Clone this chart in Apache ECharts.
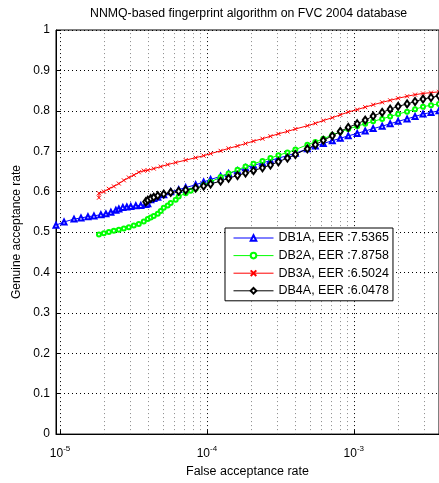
<!DOCTYPE html>
<html>
<head>
<meta charset="utf-8">
<script src="https://cdn.jsdelivr.net/npm/echarts@6/dist/echarts.min.js"></script>
<style>
html,body{margin:0;padding:0;background:#fff;}
#chart{width:439px;height:483px;}
</style>
</head>
<body>
<div id="chart"></div>
<script>
// ---- data (FAR, GAR) ----
const db1aFar = [9.39e-6,1.065e-5,1.245e-5,1.389e-5,1.549e-5,1.702e-5,1.897e-5,2.053e-5,2.219e-5,2.399e-5,2.515e-5,2.677e-5,2.850e-5,3.034e-5,3.281e-5,3.548e-5,3.835e-5,3.957e-5,4.148e-5,4.347e-5,4.627e-5,5.082e-5,5.670e-5,6.426e-5,7.170e-5,8.382e-5,9.497e-5,1.059e-4,1.239e-4,1.404e-4,1.615e-4,1.831e-4,2.075e-4,2.388e-4,2.706e-4,3.067e-4,3.531e-4,4.001e-4,4.826e-4,5.470e-4,6.198e-4,7.135e-4,8.085e-4,9.162e-4,1.054e-3,1.195e-3,1.354e-3,1.559e-3,1.767e-3,2.002e-3,2.304e-3,2.611e-3,2.958e-3,3.353e-3,3.800e-3];
const db1aGar = [0.517,0.525,0.532,0.535,0.538,0.540,0.543,0.545,0.549,0.554,0.557,0.561,0.562,0.563,0.565,0.566,0.568,0.570,0.580,0.583,0.586,0.592,0.600,0.605,0.610,0.617,0.624,0.630,0.638,0.645,0.652,0.659,0.665,0.671,0.677,0.683,0.689,0.695,0.706,0.713,0.719,0.726,0.732,0.738,0.744,0.750,0.756,0.762,0.768,0.774,0.780,0.786,0.792,0.796,0.800];

const db2aFar = [1.841e-5,1.989e-5,2.151e-5,2.325e-5,2.515e-5,2.720e-5,2.941e-5,3.180e-5,3.438e-5,3.717e-5,3.957e-5,4.148e-5,4.347e-5,4.627e-5,4.850e-5,5.082e-5,5.410e-5,5.670e-5,6.131e-5,6.426e-5,7.170e-5,7.752e-5,8.382e-5,9.497e-5,1.059e-4,1.239e-4,1.404e-4,1.615e-4,1.831e-4,2.075e-4,2.388e-4,2.706e-4,3.067e-4,3.531e-4,4.001e-4,4.826e-4,5.470e-4,6.198e-4,7.135e-4,8.085e-4,9.162e-4,1.054e-3,1.195e-3,1.354e-3,1.559e-3,1.767e-3,2.002e-3,2.304e-3,2.611e-3,2.958e-3,3.353e-3,3.800e-3];
const db2aGar = [0.494,0.497,0.500,0.503,0.506,0.509,0.512,0.516,0.520,0.526,0.532,0.536,0.540,0.545,0.552,0.560,0.566,0.572,0.580,0.588,0.596,0.602,0.607,0.616,0.624,0.636,0.645,0.654,0.662,0.669,0.676,0.683,0.690,0.697,0.704,0.716,0.723,0.731,0.740,0.748,0.755,0.762,0.768,0.774,0.780,0.786,0.792,0.798,0.804,0.810,0.814,0.817];

const db3aFar = [1.841e-5,1.841e-5,1.989e-5,2.151e-5,2.325e-5,2.515e-5,2.720e-5,2.941e-5,3.180e-5,3.438e-5,3.717e-5,3.957e-5,4.347e-5,4.850e-5,5.410e-5,6.131e-5,7.170e-5,8.382e-5,9.497e-5,1.059e-4,1.239e-4,1.404e-4,1.615e-4,1.831e-4,2.075e-4,2.388e-4,2.706e-4,3.067e-4,3.531e-4,4.001e-4,4.826e-4,5.470e-4,6.198e-4,7.135e-4,8.085e-4,9.162e-4,1.054e-3,1.195e-3,1.354e-3,1.559e-3,1.767e-3,2.002e-3,2.304e-3,2.611e-3,2.958e-3,3.353e-3,3.800e-3];
const db3aGar = [0.585,0.596,0.600,0.607,0.613,0.620,0.628,0.635,0.641,0.648,0.652,0.653,0.657,0.662,0.667,0.672,0.678,0.684,0.689,0.694,0.701,0.707,0.713,0.719,0.725,0.731,0.737,0.743,0.749,0.755,0.763,0.769,0.776,0.783,0.790,0.797,0.803,0.809,0.815,0.821,0.826,0.831,0.836,0.840,0.843,0.845,0.847];

const db4aFar = [3.835e-5,3.957e-5,4.148e-5,4.347e-5,4.627e-5,5.082e-5,5.670e-5,6.426e-5,7.170e-5,8.382e-5,9.497e-5,1.059e-4,1.239e-4,1.404e-4,1.615e-4,1.831e-4,2.075e-4,2.388e-4,2.706e-4,3.067e-4,3.531e-4,4.001e-4,4.826e-4,5.470e-4,6.198e-4,7.135e-4,8.085e-4,9.162e-4,1.054e-3,1.195e-3,1.354e-3,1.559e-3,1.767e-3,2.002e-3,2.304e-3,2.611e-3,2.958e-3,3.353e-3,3.800e-3];
const db4aGar = [0.575,0.579,0.583,0.586,0.590,0.594,0.598,0.601,0.604,0.609,0.614,0.619,0.626,0.633,0.640,0.646,0.652,0.659,0.666,0.674,0.683,0.692,0.706,0.716,0.727,0.738,0.749,0.759,0.768,0.777,0.787,0.796,0.804,0.811,0.817,0.823,0.829,0.833,0.837];

const seriesNames = ['DB1A, EER :7.5365','DB2A, EER :7.8758','DB3A, EER :6.5024','DB4A, EER :6.0478'];
const xMin = 9.39e-6, xMax = 3.8e-3;
const decadeGrid = [1e-5, 1e-4, 1e-3];
const minorGrid = [2e-5,3e-5,4e-5,5e-5,6e-5,7e-5,8e-5,9e-5,2e-4,3e-4,4e-4,5e-4,6e-4,7e-4,8e-4,9e-4,2e-3,3e-3];

const FONT = '"Liberation Sans", Arial, sans-serif';
function pairs(xs, ys){ return xs.map((x,i)=>[x, ys[i]]); }

const chart = echarts.init(document.getElementById('chart'), null, {renderer:'canvas'});
const crossPath = 'path://M0,0L10,10M10,0L0,10';

// vertical grid lines (value, isDecade) drawn through the log x scale
const vGridData = decadeGrid.map(v => [v, 1]).concat(minorGrid.map(v => [v, 0]));

chart.setOption({
  animation: false,
  backgroundColor: '#fff',
  title: {
    text: 'NNMQ-based fingerprint algorithm on FVC 2004 database',
    left: 90, top: 8, padding: 0,
    textStyle: {fontFamily: FONT, fontSize: 12.3, fontWeight: 'normal', color: '#000'}
  },
  grid: {left: 56, right: 0, top: 30, bottom: 43, show: true, borderColor: '#000', borderWidth: 1, backgroundColor: 'transparent'},
  legend: {
    orient: 'vertical', left: 225, top: 228,
    backgroundColor: '#fff', borderColor: '#000', borderWidth: 1,
    padding: [3, 4, 3, 8], itemWidth: 40, itemHeight: 7, itemGap: 3.6,
    lineStyle: {width: 1},
    textStyle: {fontFamily: FONT, fontSize: 12.5, color: '#000', lineHeight: 14},
    data: seriesNames
  },
  xAxis: {
    type: 'log', min: xMin, max: xMax, logBase: 10,
    name: 'False acceptance rate', nameLocation: 'middle', nameGap: 27,
    nameTextStyle: {fontFamily: FONT, fontSize: 12.5, color: '#000'},
    axisLine: {show: true, lineStyle: {color: '#000'}},
    axisTick: {show: true, inside: true, length: 4, lineStyle: {color: '#000'}},
    splitLine: {show: false},
    axisLabel: {
      margin: 8, showMinLabel: false, showMaxLabel: false,
      formatter: function(v){
        const e = Math.log10(v);
        if (Math.abs(e - Math.round(e)) > 1e-6) return '';
        return '{b|10}{s|' + Math.round(e) + '}';
      },
      rich: {
        b: {fontFamily: FONT, fontSize: 12, color: '#000', padding: [6,0,0,0]},
        s: {fontFamily: FONT, fontSize: 8, color: '#000', padding: [0,0,4,0]}
      }
    }
  },
  yAxis: {
    type: 'value', min: 0, max: 1, interval: 0.1,
    name: 'Genuine acceptance rate', nameLocation: 'middle', nameGap: 32,
    nameTextStyle: {fontFamily: FONT, fontSize: 12, color: '#000'},
    axisLine: {show: true, lineStyle: {color: '#000'}},
    axisTick: {show: true, inside: true, length: 4, lineStyle: {color: '#000'}},
    splitLine: {show: true, lineStyle: {color: '#000', type: [1,3], width: 1}},
    axisLabel: {fontFamily: FONT, fontSize: 12, color: '#000', margin: 6,
      formatter: v => String(Math.round(v*10)/10)}
  },
  series: [
    {
      type: 'custom', silent: true, z: 1, data: vGridData,
      encode: {x: 0, y: 1},
      renderItem: function(params, api){
        const v = api.value(0);
        const p0 = api.coord([v, 0]);
        const p1 = api.coord([v, 1]);
        const x = Math.round(p0[0]) + 0.5;
        return {type: 'line', shape: {x1: x, y1: p0[1], x2: x, y2: p1[1]},
          style: {stroke: api.value(1) ? '#000' : '#888', lineDash: [1,3], lineWidth: 1}};
      }
    },
    {
      name: seriesNames[0], type: 'line', data: pairs(db1aFar, db1aGar),
      symbol: 'emptyTriangle', symbolSize: 5, showAllSymbol: true,
      lineStyle: {color: '#0000ff', width: 1},
      itemStyle: {color: '#0000ff', borderColor: '#0000ff', borderWidth: 1},
      z: 3
    },
    {
      name: seriesNames[1], type: 'line', data: pairs(db2aFar, db2aGar),
      symbol: 'emptyCircle', symbolSize: 4, showAllSymbol: true,
      lineStyle: {color: '#00ff00', width: 1},
      itemStyle: {color: '#00ff00', borderColor: '#00ff00', borderWidth: 1},
      z: 4
    },
    {
      name: seriesNames[2], type: 'line', data: pairs(db3aFar, db3aGar),
      symbol: crossPath, symbolSize: 4, showAllSymbol: true,
      lineStyle: {color: '#ff0000', width: 1},
      itemStyle: {color: '#ff0000', borderColor: '#ff0000', borderWidth: 1},
      z: 5
    },
    {
      name: seriesNames[3], type: 'line', data: pairs(db4aFar, db4aGar),
      symbol: 'emptyDiamond', symbolSize: [5,7], showAllSymbol: true,
      lineStyle: {color: '#000000', width: 1},
      itemStyle: {color: '#000000', borderColor: '#000000', borderWidth: 1},
      z: 6
    }
  ]
});
</script>
</body>
</html>
